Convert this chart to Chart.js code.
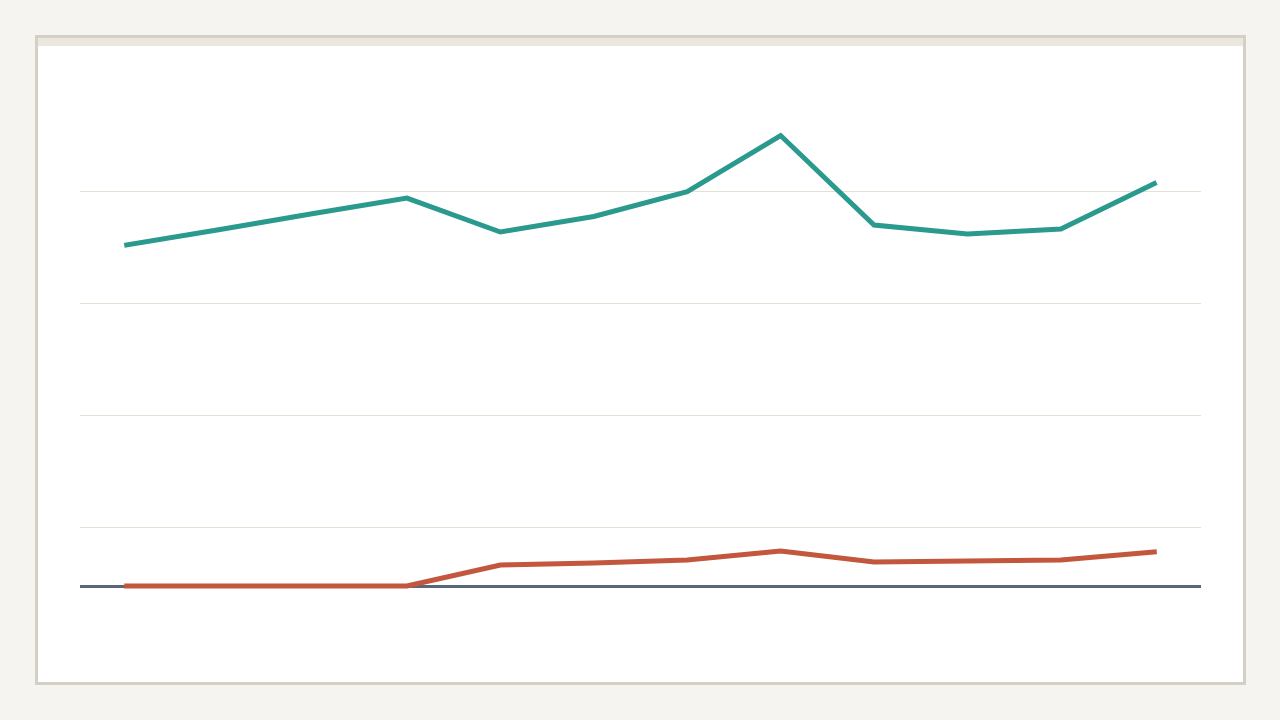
<!DOCTYPE html>
<html lang="en">
<head>
<meta charset="utf-8">
<title>Two series</title>
<script src="https://cdn.jsdelivr.net/npm/chart.js@4/dist/chart.umd.min.js"></script>
<style>
  html, body { margin: 0; padding: 0; background: #f5f4f0; }
  body { width: 1280px; height: 720px; position: relative; overflow: hidden; font-family: "Noto Sans", sans-serif; }
  .carte {
    position: absolute; left: 35px; top: 35px; width: 1205px; height: 644px;
    background: #ffffff; border: 3px solid #d4d0c6;
  }
  .carte .bandeau { height: 8px; background: #ebe7de; }
  #graphique { position: absolute; left: 0; top: 0; }
</style>
</head>
<body>
<div class="carte"><div class="bandeau"></div></div>
<canvas id="graphique" width="1280" height="720"></canvas>
<script>
'use strict';

/* === DATA === */
const MONTHS = ['Jan', 'Feb', 'Mar', 'Apr', 'May', 'Jun', 'Jul', 'Aug', 'Sep', 'Oct', 'Nov', 'Dec'];

const TEAL_VALUES = [30.45, 31.83, 33.26, 34.64, 31.61, 32.99, 35.22, 40.22, 32.23, 31.43, 31.88, 35.94];
const RED_VALUES = [0, 0, 0, 0, 1.88, 2.05, 2.32, 3.13, 2.14, 2.23, 2.32, 3.04];

const GRID_TICKS = [0, 5.2, 15.2, 25.2, 35.2];

const Y_MIN = -4.82;
const Y_MAX = 45.18;

/* === COLOURS === */
const TEAL = '#2a9a8f';
const RED = '#c2573d';
const GRID = '#e3e1d6';
const ZERO_LINE = '#5b6677';

/* === CHART === */
function lineDataset(label, data, colour) {
  return {
    label,
    data,
    borderColor: colour,
    backgroundColor: colour,
    borderWidth: 5,
    borderCapStyle: 'square',
    pointRadius: 0,
    tension: 0,
    fill: false
  };
}

function drawChart() {
  const ctx = document.getElementById('graphique').getContext('2d');
  new Chart(ctx, {
    type: 'line',
    data: {
      labels: MONTHS,
      datasets: [
        lineDataset('Series A', TEAL_VALUES, TEAL),
        lineDataset('Series B', RED_VALUES, RED)
      ]
    },
    options: {
      responsive: false,
      animation: false,
      layout: { padding: { left: 80, right: 79, top: 80, bottom: 80 } },
      plugins: { legend: { display: false }, tooltip: { enabled: false } },
      scales: {
        x: {
          type: 'category',
          offset: true,
          display: false
        },
        y: {
          min: Y_MIN,
          max: Y_MAX,
          // gridlines are not aligned on zero in the reference
          afterBuildTicks: scale => {
            scale.ticks = GRID_TICKS.map(v => ({ value: v }));
          },
          ticks: { display: false },
          border: { display: false },
          grid: {
            drawTicks: false,
            tickLength: 0,
            color: c => (c.tick && c.tick.value === 0 ? ZERO_LINE : GRID),
            lineWidth: c => (c.tick && c.tick.value === 0 ? 3 : 1)
          }
        }
      }
    }
  });
}

document.addEventListener('DOMContentLoaded', drawChart);
</script>
</body>
</html>
